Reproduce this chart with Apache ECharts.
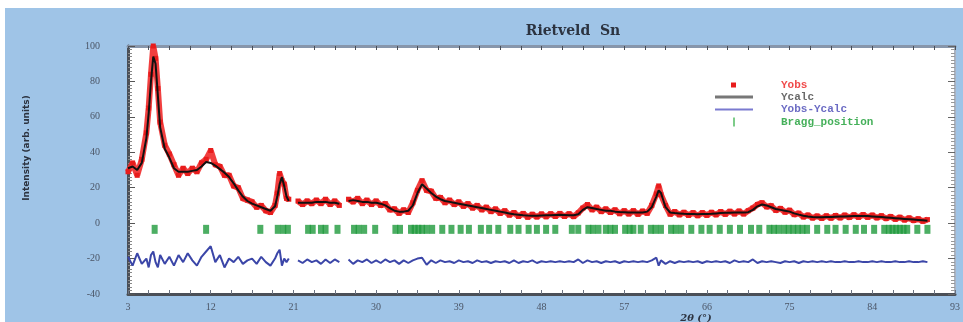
<!DOCTYPE html>
<html>
<head>
<meta charset="utf-8">
<script src="https://cdn.jsdelivr.net/npm/echarts@6/dist/echarts.min.js"></script>
<style>
  html, body { margin: 0; padding: 0; background: #ffffff; }
  #chart { position: absolute; left: 5px; top: 8px; width: 958px; height: 314px; }
</style>
</head>
<body>
<div id="chart"></div>
<script>
// 2θ grid of the pattern (null rows = gaps in the measured data)
const twoTheta = [
  3, 3.5, 4, 4.5, 5, 5.25, 5.5, 5.75, 6, 6.25,
  6.5, 7, 7.5, 8, 8.5, 9, 9.5, 10, 10.5, 11,
  11.5, 12, 12.5, 13, 13.5, 14, 14.5, 15, 15.5, 16,
  16.5, 17, 17.5, 18, 18.5, 19, 19.25, 19.5, 19.75, 20,
  20.25, 20.5, 21, 21.5, 22, 22.5, 23, 23.5, 24, 24.5,
  25, 25.5, 26, 26.5, 27, 27.5, 28, 28.5, 29, 29.5,
  30, 30.5, 31, 31.5, 32, 32.5, 33, 33.5, 34, 34.5,
  35, 35.5, 36, 36.5, 37, 37.5, 38, 38.5, 39, 39.5,
  40, 40.5, 41, 41.5, 42, 42.5, 43, 43.5, 44, 44.5,
  45, 45.5, 46, 46.5, 47, 47.5, 48, 48.5, 49, 49.5,
  50, 50.5, 51, 51.5, 52, 52.5, 53, 53.5, 54, 54.5,
  55, 55.5, 56, 56.5, 57, 57.5, 58, 58.5, 59, 59.5,
  60, 60.5, 60.75, 61, 61.5, 62, 62.5, 63, 63.5, 64,
  64.5, 65, 65.5, 66, 66.5, 67, 67.5, 68, 68.5, 69,
  69.5, 70, 70.5, 71, 71.5, 72, 72.5, 73, 73.5, 74,
  74.5, 75, 75.5, 76, 76.5, 77, 77.5, 78, 78.5, 79,
  79.5, 80, 80.5, 81, 81.5, 82, 82.5, 83, 83.5, 84,
  84.5, 85, 85.5, 86, 86.5, 87, 87.5, 88, 88.5, 89,
  89.5, 90
];

const yObs = [
  29, 34, 27, 36, 51, 65, 84, 100, 93, 76,
  57, 44, 39, 33, 27, 31, 28, 31, 29, 34,
  36, 41, 33, 32, 27, 27, 21, 20, 14, 13,
  12, 9, 10, 7, 6, 10, 17, 28, 24, 22,
  14, 13.5, null, 12.5, 10.5, 12.5, 11, 13, 11, 13.5,
  10.5, 12.5, 10, null, 13.5, 12, 14, 11, 13, 10.5,
  12.5, 10, 11, 7.5, 8, 5.5, 7.5, 6, 11.5, 18.5,
  24, 18.5, 18, 14, 14.5, 11.5, 13, 10.5, 12, 9.5,
  11, 8.5, 10, 7.5, 9, 6.5, 8, 5.5, 7, 4.5,
  6, 3.8, 5.5, 3.3, 5, 3.5, 5.2, 3.6, 5.3, 3.8,
  5.5, 3.8, 5.3, 3.7, 5.8, 8.5, 10.5, 7.5, 9, 6.5,
  8, 6, 7.5, 5.3, 7, 5.2, 7, 5, 6.8, 5.5,
  10, 16.5, 21, 16, 10, 5, 6.5, 4.7, 6.1, 4.4,
  5.9, 4.2, 5.9, 4.4, 6.1, 4.7, 6.5, 5, 6.7, 5.2,
  6.8, 5.2, 7, 8.5, 10.5, 11.5, 9.2, 9.8, 7.2, 8.3,
  6.2, 7.3, 4.8, 5.6, 3.5, 4.5, 2.9, 4, 2.7, 4.1,
  2.8, 4.3, 3, 4.5, 3.2, 4.7, 3.3, 4.8, 3.3, 4.5,
  3, 4.1, 2.6, 3.7, 2.2, 3.3, 1.8, 2.9, 1.5, 2.4,
  1.1, 2.0
];

const yCalc = [
  31, 32, 30, 34, 48, 62, 80, 94, 90, 72,
  54, 42, 37, 31, 29, 29, 29, 29.5, 30, 32,
  34.5, 34, 32.5, 30.5, 28.5, 26, 22.5, 18.5, 15, 12.5,
  11, 10, 9, 8, 7, 9.5, 15, 22, 26, 21,
  15, 12.5, null, 11.5, 11.5, 11.5, 11.5, 12, 12, 12,
  11.5, 11.5, 11, null, 12.5, 13, 12.5, 12, 12, 11.5,
  11.5, 11, 10, 8.5, 7, 6.5, 6.5, 7, 10, 17,
  22, 19.5, 17, 15, 13.5, 12.5, 12, 11.5, 11, 10.5,
  10, 9.5, 9, 8.5, 8, 7.5, 7, 6.5, 6, 5.5,
  5, 4.8, 4.5, 4.3, 4.2, 4.2, 4.3, 4.4, 4.5, 4.6,
  4.7, 4.6, 4.5, 4.5, 5, 7.5, 9, 8.5, 8, 7.5,
  7, 7, 6.5, 6.3, 6.2, 6, 6, 6, 6, 6.5,
  9, 15, 18.5, 17, 9, 6, 5.7, 5.5, 5.3, 5.2,
  5.1, 5, 5.1, 5.2, 5.3, 5.5, 5.7, 5.8, 5.9, 6,
  6, 6, 6.2, 7.5, 9.5, 10.5, 10, 9, 8, 7.5,
  7, 6.5, 5.5, 4.8, 4.2, 3.8, 3.5, 3.3, 3.3, 3.4,
  3.5, 3.6, 3.7, 3.8, 3.9, 4, 4, 4.1, 4, 3.8,
  3.6, 3.4, 3.2, 3, 2.8, 2.6, 2.4, 2.2, 2.0, 1.8,
  1.6, 1.4
];

// difference curve, drawn shifted down below the Bragg marks
const yDiff = [
  -19, -24, -17, -23, -20, -25, -18, -16, -22, -25,
  -18, -23, -19, -24, -18, -22, -17, -21, -24, -19,
  -16, -13, -22, -18, -25, -20, -22, -19, -23, -21,
  -20, -23, -19, -22, -24, -20, -17, -15, -24, -20,
  -22, -20, null, -21, -22.5, -20.5, -22, -21, -23, -20.5,
  -22.5, -20.5, -22, null, -20.5, -23, -21, -22, -20.5, -22.5,
  -21, -22.5, -20.5, -22, -21, -23, -21, -22.5, -21, -20,
  -19.5, -23.5, -21, -22.5, -21, -22, -21.5, -22.5, -21, -22,
  -21.5, -22.5, -21, -22, -21.5, -22.5, -21.5, -22, -21.5, -22.5,
  -21, -22.5, -21.5, -22, -21, -22.5, -21.5, -22, -21.5, -22,
  -21.5, -22, -21.5, -22, -20.5, -22.5, -21, -22, -21.5, -22.5,
  -21.5, -22, -21.5, -22.5, -21.5, -22, -21.5, -22, -21.5, -22,
  -21, -19.5, -24, -21, -23, -21.5, -22.5, -21.5, -22, -21.5,
  -22, -21.5, -22.5, -21.5, -22, -21.5, -22, -21.5, -22.5, -21,
  -22, -21.5, -22, -20.5, -22.5, -21.5, -22, -21.5, -22, -22.5,
  -21.5, -22, -21.5, -22.5, -21.5, -22, -21.5, -22, -21.5, -22,
  -21.5, -22, -22, -21.5, -22, -22, -21.5, -22, -22, -21.5,
  -22, -21.5, -22, -22, -21.5, -22, -22, -21.5, -22, -22,
  -21.5, -22
];

const braggPos = [
  5.9, 11.5, 17.4, 19.3, 19.9, 20.4, 22.6, 23.1, 24.0, 24.5,
  25.8, 27.6, 28.1, 28.7, 29.9, 32.1, 32.6, 33.8, 34.2, 34.6,
  35.0, 35.5, 36.1, 37.2, 38.2, 39.2, 40.1, 41.4, 42.3, 43.3,
  44.6, 45.5, 46.6, 47.5, 48.5, 49.5, 51.3, 52.0, 53.1, 53.6,
  54.2, 55.0, 55.5, 56.0, 57.1, 57.6, 58.0, 58.8, 59.9, 60.4,
  61.0, 62.1, 62.6, 63.2, 64.3, 65.4, 66.3, 67.4, 68.5, 69.6,
  70.8, 71.7, 72.8, 73.3, 73.8, 74.4, 74.9, 75.4, 75.9, 76.4,
  76.9, 78.0, 79.1, 80.0, 81.1, 82.2, 83.1, 84.2, 85.3, 85.8,
  86.2, 86.6, 87.0, 87.4, 87.8, 88.9, 90.0
];
const braggLevel = -3.5;

const xTicks = [3, 12, 21, 30, 39, 48, 57, 66, 75, 84, 93];

// minor ticks: 4 subdivisions between major ticks
const xMinor = [];
for (let i = 0; i < xTicks.length - 1; i++) {
  const step = (xTicks[i + 1] - xTicks[i]) / 4;
  for (let k = 0; k < 4; k++) xMinor.push(xTicks[i] + k * step);
}
xMinor.push(xTicks[xTicks.length - 1]);

const chart = echarts.init(document.getElementById('chart'), null, { renderer: 'canvas' });

const labelFont = { color: '#4b5566', fontSize: 10, fontFamily: 'Liberation Serif' };

const option = {
  backgroundColor: '#9fc4e7',
  animation: false,
  title: {
    text: 'Rietveld  Sn',
    left: 563,
    top: 11,
    textAlign: 'center',
    textStyle: { color: '#2c3340', fontSize: 14, fontWeight: 'bold', fontFamily: 'DejaVu Serif' },
  },
  legend: [
    {
      data: [{ name: 'Yobs', icon: 'rect', textStyle: { color: '#f04a4a' } }],
      left: 726,
      top: 71,
      orient: 'vertical',
      padding: 0,
      itemWidth: 5,
      itemHeight: 5,
      selectedMode: false,
      textStyle: { fontSize: 11, fontWeight: 'bold', fontFamily: 'Liberation Mono', lineHeight: 12, padding: [0, 0, 0, 40] },
    },
    {
      data: [
        { name: 'Ycalc', icon: 'path://M0,0H38V3H0Z', itemStyle: { color: '#777777' }, textStyle: { color: '#6a6a6a' } },
        { name: 'Yobs-Ycalc', icon: 'path://M0,0H38V2H0Z', itemStyle: { color: '#7a7ad0' }, textStyle: { color: '#6b6bc4' } },
        { name: 'Bragg_position', icon: 'path://M0,0H2V9H0Z', itemStyle: { color: '#5cbf6c' }, textStyle: { color: '#45b05a' } },
      ],
      left: 710,
      top: 83,
      orient: 'vertical',
      padding: 0,
      itemGap: 0.5,
      itemWidth: 38,
      itemHeight: 9,
      selectedMode: false,
      textStyle: { fontSize: 11, fontWeight: 'bold', fontFamily: 'Liberation Mono', lineHeight: 12, padding: [0, 0, 0, 23] },
    },
  ],
  grid: {
    left: 123, right: 3, top: 38, bottom: 28,
    show: true, backgroundColor: '#ffffff', borderColor: '#8796ab', borderWidth: 2,
  },
  xAxis: [
    {
      type: 'value', min: 3, max: 93, position: 'bottom',
      axisLine: { show: true, onZero: false, lineStyle: { color: '#4a4f57', width: 3 } },
      axisTick: { show: true, inside: true, length: 4, customValues: xMinor, lineStyle: { color: '#6b7280' } },
      axisLabel: { customValues: xTicks, margin: 8, ...labelFont },
      splitLine: { show: false },
    },
    {
      type: 'value', min: 3, max: 93, position: 'top',
      axisLine: { show: true, onZero: false, lineStyle: { color: '#8796ab', width: 3 } },
      axisTick: { show: true, inside: true, length: 4, customValues: xMinor, lineStyle: { color: '#4a4f57' } },
      axisLabel: { show: false },
      splitLine: { show: false },
    },
  ],
  yAxis: [
    {
      type: 'value', min: -40, max: 100, interval: 20, position: 'left',
      axisLine: { show: true, onZero: false, lineStyle: { color: '#4a4f57', width: 3 } },
      axisTick: { show: true, inside: true, length: 7, lineStyle: { color: '#555' } },
      minorTick: { show: true, splitNumber: 10, length: 4, lineStyle: { color: '#888' } },
      axisLabel: { margin: 28, ...labelFont },
      splitLine: { show: false },
    },
    {
      type: 'value', min: -40, max: 100, interval: 20, position: 'right',
      axisLine: { show: true, onZero: false, lineStyle: { color: '#a9b3c2', width: 2 } },
      axisTick: { show: true, inside: true, length: 7, lineStyle: { color: '#666' } },
      minorTick: { show: true, splitNumber: 10, length: 4, lineStyle: { color: '#999' } },
      axisLabel: { show: false },
      splitLine: { show: false },
    },
  ],
  graphic: [
    {
      type: 'text', x: 22, y: 140, rotation: Math.PI / 2,
      style: { text: 'Intensity (arb. units)', fill: '#2c3340', font: 'bold 9px "DejaVu Sans"', align: 'center', verticalAlign: 'middle' },
    },
    {
      type: 'text', x: 691, y: 310,
      style: { text: '2θ (°)', fill: '#2c3340', font: 'italic bold 10px "DejaVu Serif"', align: 'center', verticalAlign: 'middle' },
    },
  ],
  series: [
    {
      name: 'Bragg_position',
      type: 'scatter',
      data: braggPos.map((x) => [x, braggLevel]),
      symbol: 'rect',
      symbolSize: [6, 9],
      itemStyle: { color: '#1f9a3c', opacity: 0.8 },
      z: 2,
    },
    {
      name: 'Yobs-Ycalc',
      type: 'line',
      data: twoTheta.map((x, i) => [x, yDiff[i]]),
      symbol: 'none',
      lineStyle: { color: '#3b46a8', width: 2 },
      itemStyle: { color: '#3b46a8' },
      z: 3,
    },
    {
      name: 'Yobs',
      type: 'line',
      data: twoTheta.map((x, i) => [x, yObs[i]]),
      symbol: 'rect',
      symbolSize: 5,
      showAllSymbol: true,
      lineStyle: { color: '#f02a2a', width: 6, opacity: 0.9 },
      itemStyle: { color: '#e81c1c' },
      z: 4,
    },
    {
      name: 'Ycalc',
      type: 'line',
      data: twoTheta.map((x, i) => [x, yCalc[i]]),
      symbol: 'none',
      lineStyle: { color: '#111111', width: 2 },
      itemStyle: { color: '#111111' },
      z: 5,
    },
  ],
};

chart.setOption(option);
</script>
</body>
</html>
